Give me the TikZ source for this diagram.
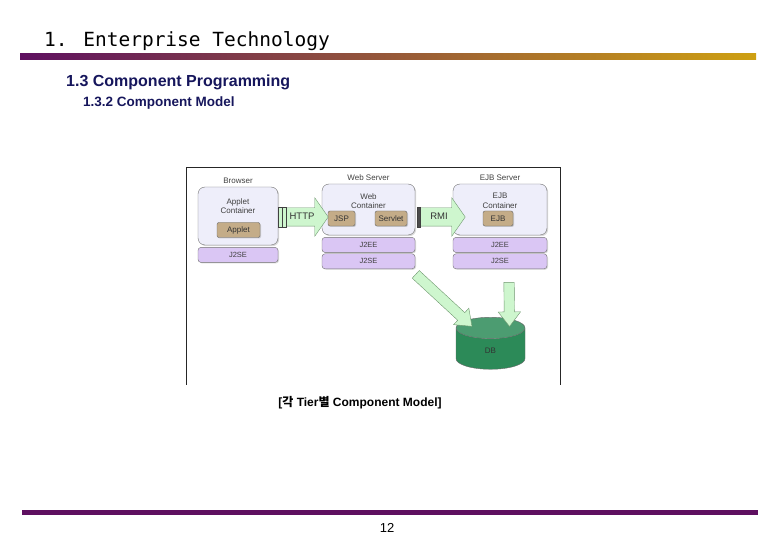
\documentclass[tikz,border=0pt]{standalone}
\usepackage{fontspec}
\setmainfont{Liberation Sans}
\newfontfamily\titlefont{DejaVu Sans Mono}
\newfontfamily\kofont{Noto Sans CJK KR}
\usetikzlibrary{calc,positioning,shapes.geometric,shapes.arrows,shadows}

\definecolor{slidepurple}{RGB}{94,16,96}
\definecolor{slidegold}{RGB}{206,160,18}
\definecolor{headnavy}{RGB}{22,22,92}
\definecolor{contfill}{RGB}{238,238,250}
\definecolor{tanfill}{RGB}{196,172,136}
\definecolor{lilac}{RGB}{218,198,244}
\definecolor{mint}{RGB}{206,246,206}
\definecolor{mintline}{RGB}{110,150,110}
\definecolor{dbgreen}{RGB}{44,138,88}

\begin{document}
\begin{tikzpicture}[x=1pt, y=-1pt,
    container/.style={rectangle, rounded corners=7pt, draw=black!55, fill=contfill,
      inner sep=0pt, drop shadow={shadow xshift=1.2pt, shadow yshift=-1.2pt, fill=black!30}},
    layer/.style={rectangle, rounded corners=3pt, draw=black!55, fill=lilac, inner sep=0pt,
      minimum height=15pt, font=\fontsize{7.5}{8}\selectfont, text=black!75,
      drop shadow={shadow xshift=1pt, shadow yshift=-1pt, fill=black!30}},
    part/.style={rectangle, rounded corners=2pt, draw=black!60, fill=tanfill, inner sep=0pt,
      minimum height=15pt, font=\fontsize{8}{9}\selectfont, text=black!80,
      drop shadow={shadow xshift=1pt, shadow yshift=-1pt, fill=black!35}},
    tag/.style={font=\fontsize{8}{9.5}\selectfont, text=black!75, align=center},
    pipe/.style={single arrow, draw=mintline, fill=mint, single arrow head extend=10pt,
      single arrow tip angle=110, inner xsep=2pt, inner ysep=5pt, text height=7pt,
      text depth=1pt, minimum height=46pt, font=\fontsize{9.5}{10}\selectfont, text=black!80},
    thinpipe/.style={single arrow, draw=mintline, fill=mint, single arrow head extend=6pt,
      single arrow tip angle=75, inner xsep=0pt, inner ysep=5pt, text height=0pt,
      text depth=0pt, sloped, allow upside down},
    plug/.style={rectangle, draw=black!75, fill=mint, inner sep=0pt, minimum height=20pt},
    database/.style={cylinder, shape border rotate=90, aspect=1.2, draw=black!60,
      cylinder uses custom fill, cylinder body fill=dbgreen, cylinder end fill=dbgreen!85!white,
      minimum width=69pt, minimum height=52pt, font=\fontsize{8}{9}\selectfont, text=black!80},
    heading/.style={anchor=base west, inner sep=0pt, font=\bfseries, text=headnavy}]

  \useasboundingbox (0,0) rectangle (780,540);

  % slide header
  \node[anchor=base west, inner sep=0pt, font=\titlefont\fontsize{19.5}{24}\selectfont] (title) at (44,47) {1. Enterprise Technology};
  \shade[left color=slidepurple, right color=slidegold] (20,54) rectangle (756,60);
  \node[heading, font=\bfseries\fontsize{16}{18}\selectfont] (sect) at (66,87) {1.3 Component Programming};
  \node[heading, font=\bfseries\fontsize{13.5}{15}\selectfont] (subsect) at (83,107) {1.3.2 Component Model};

  % frame of the figure
  \draw[black!85, line width=0.8pt] (186,385) -- (186,167) -- (560,167) -- (560,385);

  % browser tier
  \node[container, minimum width=80pt, minimum height=58pt] (appcont) at (238,216) {};
  \node[tag, anchor=north] (applabel) at ($(appcont.north)+(0,8)$) {Applet\\Container};
  \node[tag, above=0pt of appcont] (browser) {Browser};
  \node[part, minimum width=43pt] (applet) at (238.5,230) {Applet};
  \node[layer, minimum width=80pt, below=2pt of appcont] (appse) {J2SE};

  % web tier
  \node[container, minimum width=93pt, minimum height=51pt] (webcont) at (368.5,209.5) {};
  \node[tag, anchor=north] (weblabel) at ($(webcont.north)+(0,6)$) {Web\\Container};
  \node[tag, above=0pt of webcont] (webserver) {Web Server};
  \node[part, minimum width=27pt] (jsp) at (341.5,218.5) {JSP};
  \node[part, minimum width=32pt] (servlet) at (391,218.5) {Servlet};
  \node[layer, minimum width=93pt, below=2pt of webcont] (webee) {J2EE};
  \node[layer, minimum width=93pt, below=1pt of webee] (webse) {J2SE};

  % ejb tier
  \node[container, minimum width=94pt, minimum height=51pt] (ejbcont) at (500,209.5) {};
  \node[tag, anchor=north] (ejblabel) at ($(ejbcont.north)+(0,6)$) {EJB\\Container};
  \node[tag, above=0pt of ejbcont] (ejbserver) {EJB Server};
  \node[part, minimum width=30pt] (ejb) at (498,218.5) {EJB};
  \node[layer, minimum width=94pt, below=2pt of ejbcont] (ejbee) {J2EE};
  \node[layer, minimum width=94pt, below=1pt of ejbee] (ejbse) {J2SE};

  % database
  \node[database] (db) at (490.5,351) {DB};

  % protocols
  \node[pipe] (http) at (302,217) {HTTP};
  \node[plug, minimum width=8pt] (httpplug) at (http.tail) {};
  \draw[black!75] (httpplug.north) -- (httpplug.south);
  \node[pipe] (rmi) at (439,217) {RMI};
  \node[plug, minimum width=3pt, fill=black!70] (rmiplug) at (rmi.tail) {};

  % data access
  \coordinate (webout) at ($(webse.south east)+(-2,3)$);
  \coordinate (ejbout) at ($(ejbse.south)+(9,10)$);
  \coordinate (dbleft) at ($(db.north)+(-21,7)$);
  \coordinate (dbright) at ($(db.north)+(19,6)$);
  \path let \p1 = ($(dbleft)-(webout)$), \n1 = {veclen(\x1,\y1)} in
    (webout) -- node[thinpipe, minimum height=\n1] (webjdbc) {} (dbleft);
  \path let \p1 = ($(dbright)-(ejbout)$), \n1 = {veclen(\x1,\y1)} in
    (ejbout) -- node[thinpipe, minimum height=\n1] (ejbjdbc) {} (dbright);

  % caption and page
  \node[font=\bfseries\fontsize{12}{14}\selectfont] (caption) at (360,403) {[{\kofont 각} Tier{\kofont 별} Component Model]};
  \fill[slidepurple] (22,510) rectangle (758,515);
  \node[font=\fontsize{13}{15}\selectfont] (page) at (387,528) {12};
\end{tikzpicture}
\end{document}
